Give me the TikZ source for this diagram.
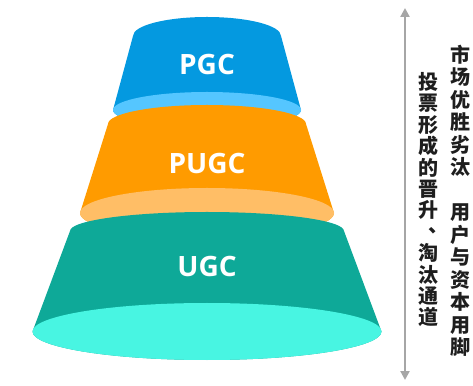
\documentclass[tikz,border=0pt]{standalone}
\usepackage{fontspec}
\newfontfamily\cjk{Noto Sans CJK SC}
\newfontfamily\lab{Open Sans}
\usetikzlibrary{arrows.meta}
\definecolor{bluebody}{HTML}{0499E0}
\definecolor{bluerim}{HTML}{55C6FF}
\definecolor{orgbody}{HTML}{FF9B00}
\definecolor{orgrim}{HTML}{FFBE66}
\definecolor{tealbody}{HTML}{0EA998}
\definecolor{tealrim}{HTML}{48F5E2}
\definecolor{arrowgray}{HTML}{A6A6A6}
\definecolor{vtextcol}{HTML}{1E1E1E}
\begin{document}
\begin{tikzpicture}[x=1pt,y=1pt,
  layerlabel/.style={text=white,font=\lab\bfseries\fontsize{28}{30}\selectfont,inner sep=0pt},
  vtext/.style={text=vtextcol,align=center,inner sep=0pt},
  scalearrow/.style={arrowgray, line width=2.6pt,
    arrows={Triangle[width=9pt,length=9pt]-Triangle[width=9pt,length=9pt]}}
  ]
\useasboundingbox (0,0) rectangle (473,385);
% PGC layer
\fill[bluebody] (133,349) arc[start angle=180,end angle=0,x radius=74,y radius=19]
  -- (301,275) arc[start angle=0,end angle=-180,x radius=94,y radius=18] -- cycle;
\fill[bluerim] (207,275) ellipse[x radius=94,y radius=18];
% PUGC layer
\fill[orgbody] (108,261) arc[start angle=180,end angle=0,x radius=99,y radius=19]
  -- (334,172) arc[start angle=0,end angle=-180,x radius=127,y radius=25] -- cycle;
\fill[orgrim] (207,172) ellipse[x radius=127,y radius=25];
% UGC layer
\fill[tealbody] (70,154) arc[start angle=180,end angle=0,x radius=137,y radius=19]
  -- (381.5,53.5) arc[start angle=0,end angle=-180,x radius=174.5,y radius=28.5] -- cycle;
\fill[tealrim] (207,53.5) ellipse[x radius=174.5,y radius=28.5];
% labels
\node[layerlabel] (pgc) at (207,320) {PGC};
\node[layerlabel] (pugc) at (207,221) {PUGC};
\node[layerlabel] (ugc) at (207,118) {UGC};
% arrow
\coordinate (atop) at (405,377);
\coordinate (abot) at (405,5);
\draw[scalearrow] (atop) -- (abot);
% right column
\node[vtext, font=\cjk\bfseries\fontsize{20}{22.5}\selectfont] (rcol) at (460,184.3)
  {市\\场\\优\\胜\\劣\\汰\\\mbox{}\\用\\户\\与\\资\\本\\用\\脚};
% left column
\node[vtext, font=\cjk\bfseries\fontsize{20}{21.4}\selectfont] (lcol) at (428,185.3)
  {投\\票\\形\\成\\的\\晋\\升\\\makebox[1em][l]{\hspace{0.5em}\raisebox{0.35em}[0pt][0pt]{、}}\\淘\\汰\\通\\道};
\end{tikzpicture}
\end{document}
